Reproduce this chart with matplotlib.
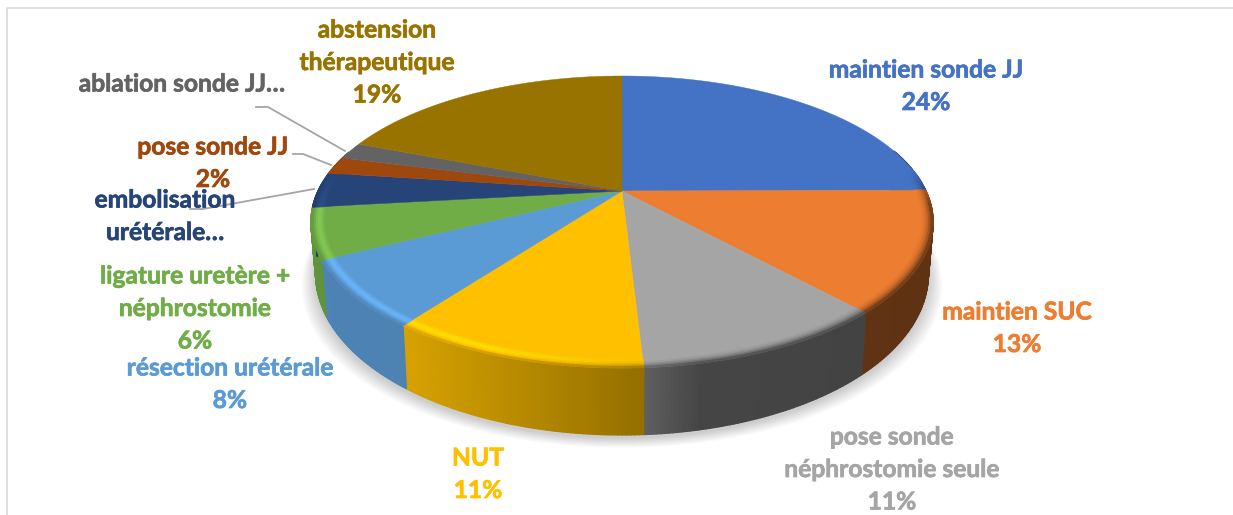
import numpy as np
import matplotlib
matplotlib.use('Agg')
import matplotlib.pyplot as plt
import matplotlib.patheffects as pe
from matplotlib.collections import PolyCollection
from matplotlib.colors import to_rgb

# slice sizes (clockwise from the top), percent labels as printed
names = ['maintien sonde JJ', 'maintien SUC', 'pose sonde\nnéphrostomie seule', 'NUT',
         'résection urétérale', 'ligature uretère +\nnéphrostomie', 'embolisation\nurétérale…',
         'pose sonde JJ', 'ablation sonde JJ…', 'abstension\nthérapeutique']
shares = [24.9, 13.3, 10.9, 11.1, 7.4, 5.6, 3.9, 1.9, 1.9, 19.1]
pct_labels = ['24%', '13%', '11%', '11%', '8%', '6%', '', '2%', '', '19%']
colors = ['#4472C4', '#ED7D31', '#A5A5A5', '#FFC000', '#5B9BD5',
          '#70AD47', '#264478', '#9E480E', '#636363', '#997300']

# label centres in pixels (first line y, line spacing is constant)
label_x = [926, 1017, 892, 478, 230, 195, 165, 213, 182, 377]
label_y = [70, 312, 437, 458, 368, 276, 200, 147, 84, 30]
line_gap = 32.5

plt.rcParams['font.family'] = ['Lato', 'DejaVu Sans']

fig = plt.figure(figsize=(12.33, 5.15), dpi=100)
ax = fig.add_axes([0, 0, 1, 1])
ax.set_xlim(0, 1233)
ax.set_ylim(515, 0)
ax.axis('off')

# perspective of the disc
cx, cy, R, b, k = 622.0, 191.0, 304.0, 139.4, 0.212


def top_xy(theta, r=1.0):
    u = r * np.sin(theta)
    v = r * np.cos(theta)
    den = 1 + k * v
    return cx + R * u / den, cy - b * v / den


def bottom_xy(theta):
    x, y = top_xy(theta)
    w = -np.cos(theta)
    return cx + (x - cx) * 0.985, y + 47 + 20 * w


def shade(x):
    return np.interp(x, [300, 408, 643, 700, 940], [0.85, 0.84, 0.58, 0.42, 0.40])


# frame
ax.plot([7, 7, 1233], [515, 8, 8], color='#D9D9D9', lw=1.2, zorder=1)

# soft shadow under the pie
th = np.linspace(0, 2 * np.pi, 400)
for grow in np.linspace(1, 14, 10):
    bx, by = bottom_xy(th)
    ax.fill(cx + (bx - cx) * (1 + grow / 310), by + grow * 0.7 + 3, color='k', alpha=0.018, lw=0, zorder=2)

edges = np.radians(np.concatenate([[0], np.cumsum(shares)]) * 3.6)

polys, facecols = [], []
bev_polys, bev_cols = [], []
bands = np.linspace(0.96, 1.0, 7)
for i in range(len(shares)):
    base = np.array(to_rgb(colors[i]))
    n = max(int((edges[i + 1] - edges[i]) * 90), 3)
    ang = np.linspace(edges[i], edges[i + 1], n + 1)
    for a0, a1 in zip(ang[:-1], ang[1:]):
        mid = (a0 + a1) / 2
        w = -np.cos(mid)
        xt0, yt0 = top_xy(a0)
        xt1, yt1 = top_xy(a1)
        xb0, yb0 = bottom_xy(a0)
        xb1, yb1 = bottom_xy(a1)
        s = base * shade((xt0 + xt1) / 2)
        if w > -0.3:
            polys.append([(xt0, yt0), (xt1, yt1), (xb1, yb1), (xb0, yb0)])
            facecols.append(s)
        # bevel along the front rim
        fade = np.clip((w + 0.15) / 0.25, 0, 1)
        if fade <= 0:
            continue
        hl = np.interp((xt0 + xt1) / 2, [300, 480, 680], [1, 1, 0])
        for j in range(len(bands) - 1):
            t = (j + 0.5) / (len(bands) - 1)
            dark = base + (s - base) * t ** 2.2
            bright = np.clip(base * (1 + 0.16 * np.sin(np.pi * min(t / 0.75, 1))), 0, 1)
            bright = bright + (s - bright) * max(0, (t - 0.75) / 0.25)
            col = dark + (bright - dark) * hl
            col = base + (col - base) * fade
            x0, y0 = top_xy(a0, bands[j])
            x1, y1 = top_xy(a1, bands[j])
            x2, y2 = top_xy(a1, bands[j + 1])
            x3, y3 = top_xy(a0, bands[j + 1])
            bev_polys.append([(x0, y0), (x1, y1), (x2, y2), (x3, y3)])
            bev_cols.append(col)

ax.add_collection(PolyCollection(polys, facecolors=facecols, edgecolors=facecols, linewidths=1.0, zorder=3))

# top of the pie
for i in range(len(shares)):
    ang = np.linspace(edges[i], edges[i + 1], 200)
    x, y = top_xy(ang)
    ax.fill(np.r_[cx, x], np.r_[cy, y], color=colors[i], lw=0.3, zorder=4)

ax.add_collection(PolyCollection(bev_polys, facecolors=bev_cols, edgecolors=bev_cols, linewidths=0.8, zorder=5))

# leader lines
ax.plot([256, 268, 345], [107, 107, 151], color='#A5A5A5', lw=1.3, zorder=6)
ax.plot([293, 303, 331], [154, 154, 165], color='#A5A5A5', lw=1.3, zorder=6)
ax.plot([190, 203, 314], [209, 209, 189], color='#A5A5A5', lw=1.3, zorder=6)

# labels
for i in range(len(names)):
    lines = names[i].split('\n')
    if pct_labels[i]:
        lines.append(pct_labels[i])
    for j, line in enumerate(lines):
        txt = ax.text(label_x[i], label_y[i] + j * line_gap, line, color=colors[i], fontsize=17.7,
                      fontweight='bold', ha='center', va='center', zorder=7)
        txt.set_path_effects([pe.withStroke(linewidth=0.5, foreground=colors[i])])

fig.savefig('out.png', dpi=100)
